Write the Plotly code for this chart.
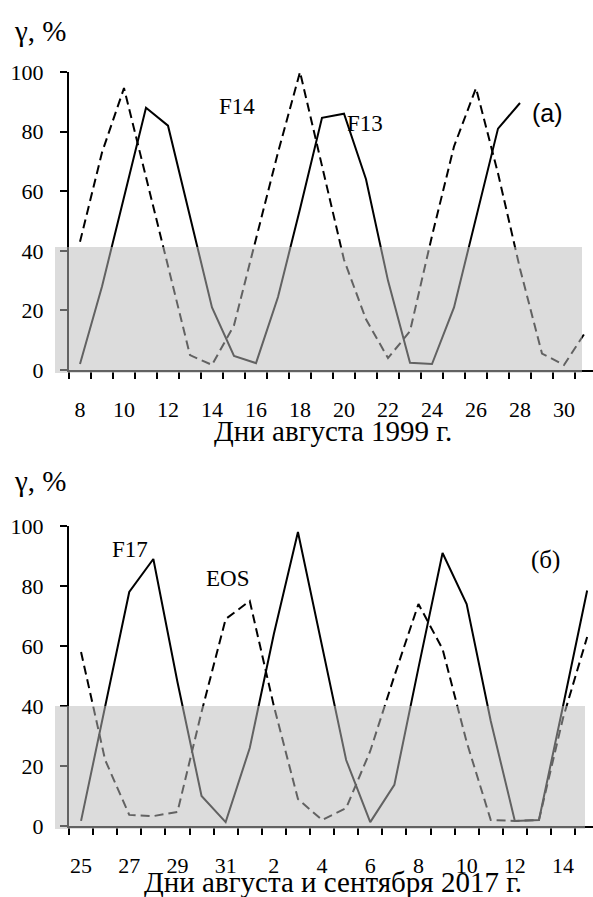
import plotly.graph_objects as go

W, H = 593, 897

# ---------------- data ----------------
days_1999 = [8, 9, 10, 11, 12, 13, 14, 15, 16, 17, 18, 19, 20, 21, 22, 23, 24, 25, 26, 27, 28, 29, 30, 31]
f13_1999 = [2, 28, 58, 88, 82, 51, 21, 4.7, 2.3, 24.5, 54, 84.6, 86, 64, 30, 2.4, 2, 21, 51, 81, 89.6]
f14_1999 = [43, 73, 94.6, 65, 35, 5, 1.7, 15, 44, 73, 100, 68, 37, 17, 4, 13, 45, 75, 94.6, 66, 34, 5.5, 1.7, 13]
ticks_1999 = ["8", "10", "12", "14", "16", "18", "20", "22", "24", "26", "28", "30"]

days_2017 = [25, 26, 27, 28, 29, 30, 31, 1, 2, 3, 4, 5, 6, 7, 8, 9, 10, 11, 12, 13, 14, 15]
f17_2017 = [1.7, 40, 78, 89, 48, 10, 1.3, 26, 64, 98, 60, 22, 1.3, 13.7, 52.7, 91, 74, 35, 1.7, 2, 40, 78.5]
eos_2017 = [58, 22, 3.7, 3.3, 4.7, 38, 69, 75, 40, 9, 2, 6, 25, 50, 74, 59, 28, 2, 1.7, 2, 36, 63]
ticks_2017 = ["25", "27", "29", "31", "2", "4", "6", "8", "10", "12", "14"]

y_ticks = [0, 20, 40, 60, 80, 100]

# ---------------- geometry (pixels) ----------------
x_axis_px = 69
top_y0_px, top_y100_px = 370, 72
bot_y0_px, bot_y100_px = 826, 526
top_step, bot_step = 22.0, 24.1

def py(p):
    return 1 - p / H

idx_1999 = list(range(len(days_1999)))
idx_2017 = list(range(len(days_2017)))

SERIF = "Liberation Serif"
fig = go.Figure()

line_solid = dict(color="black", width=2)
line_dash = dict(color="black", width=2, dash="9px,5px")

fig.add_trace(go.Scatter(x=idx_1999[:len(f13_1999)], y=f13_1999, mode="lines", line=line_solid,
                         name="F13", xaxis="x", yaxis="y", showlegend=False))
fig.add_trace(go.Scatter(x=idx_1999, y=f14_1999, mode="lines", line=line_dash,
                         name="F14", xaxis="x", yaxis="y", showlegend=False))
fig.add_trace(go.Scatter(x=idx_2017, y=f17_2017, mode="lines", line=line_solid,
                         name="F17", xaxis="x2", yaxis="y2", showlegend=False))
fig.add_trace(go.Scatter(x=idx_2017, y=eos_2017, mode="lines", line=line_dash,
                         name="EOS", xaxis="x2", yaxis="y2", showlegend=False))

tickfont = dict(family=SERIF, size=22, color="black")

def xaxis_cfg(n, step, labels, anchor):
    rng_hi = (W - x_axis_px) / step - 0.5
    return dict(
        domain=[x_axis_px / W, 1], range=[-0.5, rng_hi], anchor=anchor,
        tickmode="array", tickvals=list(range(0, n, 2)), ticktext=labels,
        ticks="", showgrid=False, zeroline=False, automargin=False,
        showline=True, linecolor="black", linewidth=2,
        tickfont=tickfont, ticklabelstandoff=19,
        minor=dict(tickmode="array", tickvals=[i - 0.5 for i in range(n + 1)],
                   ticks="outside", ticklen=7, tickwidth=2, tickcolor="black", showgrid=False),
    )

def yaxis_cfg(p0, p100, anchor):
    return dict(
        domain=[py(p0), py(p100)], range=[0, 100], anchor=anchor,
        tickmode="array", tickvals=y_ticks, ticks="outside", ticklen=7, tickwidth=2,
        tickcolor="black", showgrid=False, zeroline=False, automargin=False,
        showline=True, linecolor="black", linewidth=2,
        tickfont=tickfont, ticklabelstandoff=12,
    )

fig.update_layout(
    width=W, height=H, margin=dict(l=0, r=0, t=0, b=0, autoexpand=False),
    paper_bgcolor="white", plot_bgcolor="white", showlegend=False,
    font=dict(family=SERIF, color="black"),
    xaxis=xaxis_cfg(len(days_1999), top_step, ticks_1999, "y"),
    yaxis=yaxis_cfg(top_y0_px, top_y100_px, "x"),
    xaxis2=xaxis_cfg(len(days_2017), bot_step, ticks_2017, "y2"),
    yaxis2=yaxis_cfg(bot_y0_px, bot_y100_px, "x2"),
)

# gray translucent band (drawn above the lines)
band = "rgba(187,187,187,0.52)"
fig.add_shape(type="rect", xref="paper", yref="paper", layer="above",
              x0=55 / W, x1=582 / W, y0=py(373), y1=py(247), fillcolor=band, line=dict(width=0))
fig.add_shape(type="rect", xref="paper", yref="paper", layer="above",
              x0=55 / W, x1=585 / W, y0=py(829), y1=py(706), fillcolor=band, line=dict(width=0))

def ann(text, xp, yp, size, family=SERIF):
    fig.add_annotation(text=text, x=xp / W, y=py(yp), xref="paper", yref="paper",
                       showarrow=False, xanchor="center", yanchor="middle",
                       font=dict(family=family, size=size, color="black"))

ann("γ, %", 40, 31, 29)
ann("γ, %", 40, 481, 29)
ann("Дни августа 1999 г.", 333, 431, 29)
ann("Дни августа и сентября 2017 г.", 333, 882, 29)
ann("F14", 237, 106, 23)
ann("F13", 365, 124, 23)
ann("(a)", 547, 113, 25, "Liberation Sans")
ann("F17", 130, 549, 23)
ann("EOS", 228, 578, 23)
ann("(б)", 545, 560, 25)

fig.write_html("out.html")
